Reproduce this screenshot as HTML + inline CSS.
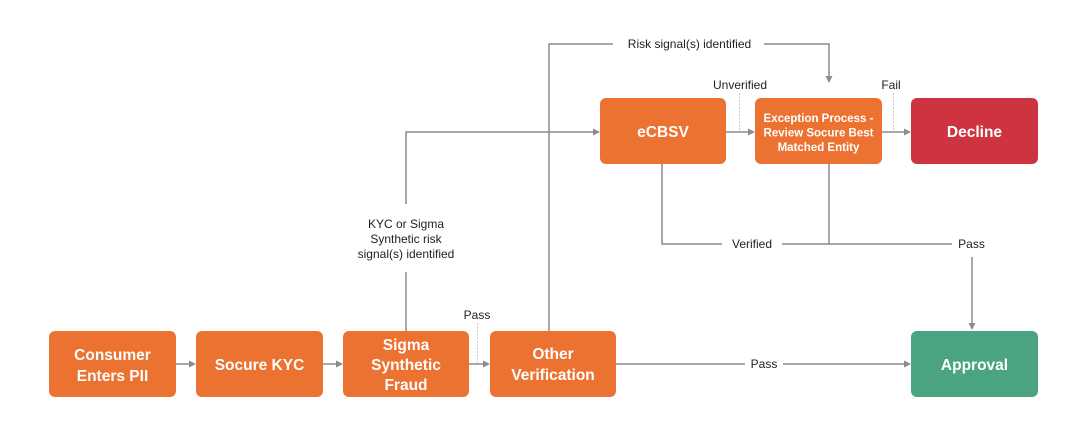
<!DOCTYPE html>
<html>
<head>
<meta charset="utf-8">
<style>
  html,body{margin:0;padding:0;background:#fff;}
  svg{display:block;}
  .box{font-family:"Liberation Sans",sans-serif;font-weight:bold;fill:#fff;font-size:15.5px;}
  .lbl{font-family:"Liberation Sans",sans-serif;fill:#222;font-size:12px;}
  .ln{stroke:#8c8c8c;stroke-width:1.5;fill:none;}
  .ld{stroke:#c8c8c8;stroke-width:1;fill:none;stroke-dasharray:2 1.5;}
  .ah{fill:#8c8c8c;}
</style>
</head>
<body>
<svg width="1084" height="426" viewBox="0 0 1084 426" xmlns="http://www.w3.org/2000/svg">
  <!-- connectors -->
  <!-- bottom row -->
  <line class="ln" x1="176" y1="364" x2="190" y2="364"/>
  <polygon class="ah" points="196,364 189,360.5 189,367.5"/>
  <line class="ln" x1="323" y1="364" x2="337" y2="364"/>
  <polygon class="ah" points="343,364 336,360.5 336,367.5"/>
  <line class="ln" x1="469" y1="364" x2="484" y2="364"/>
  <polygon class="ah" points="490,364 483,360.5 483,367.5"/>
  <line class="ld" x1="477.5" y1="323" x2="477.5" y2="363"/>
  <text class="lbl" x="477" y="319" text-anchor="middle">Pass</text>

  <line class="ln" x1="616" y1="364" x2="745" y2="364"/>
  <text class="lbl" x="764" y="368" text-anchor="middle">Pass</text>
  <line class="ln" x1="783" y1="364" x2="905" y2="364"/>
  <polygon class="ah" points="911,364 904,360.5 904,367.5"/>

  <!-- Sigma up to eCBSV -->
  <line class="ln" x1="406" y1="331" x2="406" y2="272"/>
  <text class="lbl" x="406" y="228" text-anchor="middle">KYC or Sigma</text>
  <text class="lbl" x="406" y="243" text-anchor="middle">Synthetic risk</text>
  <text class="lbl" x="406" y="258" text-anchor="middle">signal(s) identified</text>
  <polyline class="ln" points="406,204 406,132 594,132"/>
  <polygon class="ah" points="600,132 593,128.5 593,135.5"/>

  <!-- Other up to Exception (Risk signals) -->
  <polyline class="ln" points="549,331 549,44 613,44"/>
  <text class="lbl" x="689.5" y="48" text-anchor="middle">Risk signal(s) identified</text>
  <polyline class="ln" points="764,44 829,44 829,77"/>
  <polygon class="ah" points="829,83 825.5,76 832.5,76"/>

  <!-- eCBSV -> Exception -->
  <line class="ln" x1="726" y1="132" x2="749" y2="132"/>
  <polygon class="ah" points="755,132 748,128.5 748,135.5"/>
  <line class="ld" x1="739.5" y1="93" x2="739.5" y2="131"/>
  <text class="lbl" x="740" y="89" text-anchor="middle">Unverified</text>

  <!-- Exception -> Decline -->
  <line class="ln" x1="882" y1="132" x2="905" y2="132"/>
  <polygon class="ah" points="911,132 904,128.5 904,135.5"/>
  <line class="ld" x1="893.5" y1="93" x2="893.5" y2="131"/>
  <text class="lbl" x="891" y="89" text-anchor="middle">Fail</text>

  <!-- Verified / Pass -->
  <polyline class="ln" points="662,164 662,244 722,244"/>
  <text class="lbl" x="752" y="248" text-anchor="middle">Verified</text>
  <line class="ln" x1="782" y1="244" x2="952" y2="244"/>
  <line class="ln" x1="829" y1="164" x2="829" y2="244"/>
  <text class="lbl" x="971.5" y="248" text-anchor="middle">Pass</text>
  <line class="ln" x1="972" y1="257" x2="972" y2="324"/>
  <polygon class="ah" points="972,330 968.5,323 975.5,323"/>

  <!-- boxes -->
  <rect x="49" y="331" width="127" height="66" rx="6" fill="#EC7231"/>
  <text class="box" x="112.5" y="360" text-anchor="middle">Consumer</text>
  <text class="box" x="112.5" y="381" text-anchor="middle">Enters PII</text>

  <rect x="196" y="331" width="127" height="66" rx="6" fill="#EC7231"/>
  <text class="box" x="259.5" y="370" text-anchor="middle">Socure KYC</text>

  <rect x="343" y="331" width="126" height="66" rx="6" fill="#EC7231"/>
  <text class="box" x="406" y="350" text-anchor="middle">Sigma</text>
  <text class="box" x="406" y="370" text-anchor="middle">Synthetic</text>
  <text class="box" x="406" y="390" text-anchor="middle">Fraud</text>

  <rect x="490" y="331" width="126" height="66" rx="6" fill="#EC7231"/>
  <text class="box" x="553" y="359" text-anchor="middle">Other</text>
  <text class="box" x="553" y="380" text-anchor="middle">Verification</text>

  <rect x="911" y="331" width="127" height="66" rx="6" fill="#4AA47F"/>
  <text class="box" x="974.5" y="370" text-anchor="middle">Approval</text>

  <rect x="600" y="98" width="126" height="66" rx="6" fill="#EC7231"/>
  <text class="box" x="663" y="137" text-anchor="middle">eCBSV</text>

  <rect x="755" y="98" width="127" height="66" rx="6" fill="#EC7231"/>
  <text class="box" x="818.5" y="122" text-anchor="middle" style="font-size:11.5px">Exception Process -</text>
  <text class="box" x="818.5" y="136.5" text-anchor="middle" style="font-size:11.5px">Review Socure Best</text>
  <text class="box" x="818.5" y="151" text-anchor="middle" style="font-size:11.5px">Matched Entity</text>

  <rect x="911" y="98" width="127" height="66" rx="6" fill="#CE343F"/>
  <text class="box" x="974.5" y="137" text-anchor="middle">Decline</text>
</svg>
</body>
</html>
